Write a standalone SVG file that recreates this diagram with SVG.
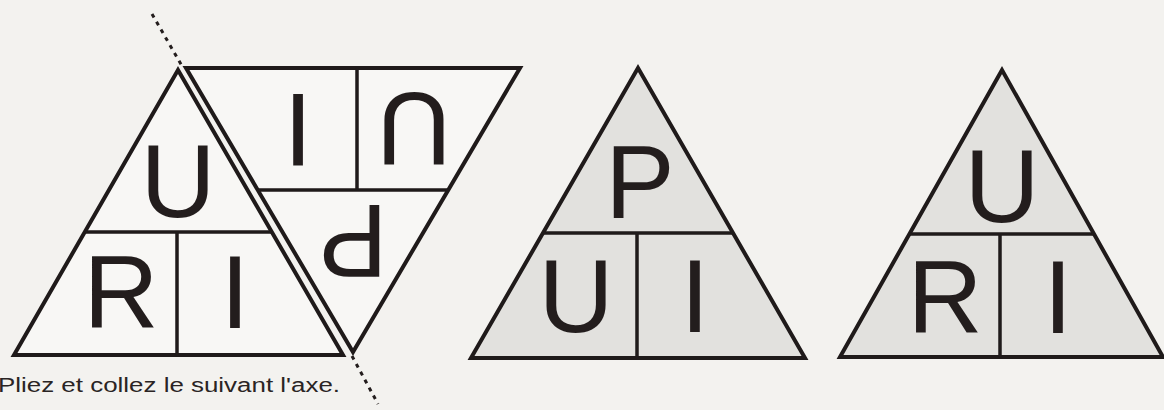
<svg xmlns="http://www.w3.org/2000/svg" width="1164" height="410" viewBox="0 0 1164 410">
<style>
.tri{stroke:#1f1a1a;stroke-width:4;stroke-linejoin:miter}
.w{fill:#f8f7f5}
.g{fill:#e2e1de}
.div{stroke:#1f1a1a;stroke-width:3.5;fill:none}
.L{font-family:"Liberation Sans",Arial,sans-serif;font-size:104px;fill:#231d1d;text-anchor:middle}
.cap{font-family:"Liberation Sans",Arial,sans-serif;font-size:20px;fill:#2a2424}
.axis{stroke:#231d1d;stroke-width:3;stroke-dasharray:4 5;fill:none}
</style>
<rect width="1164" height="410" fill="#f3f2ef"/>
<g id="fold-axis">
<line class="axis" x1="152" y1="14" x2="182" y2="66"/>
<line class="axis" x1="352" y1="356" x2="378" y2="404"/>
</g>
<g id="tri-left">
<polygon class="tri w" points="178,70 14,355 343,355"/>
<path class="div" d="M85,232 H272 M177,232 V355"/>
<text class="L" x="178" y="217">U</text>
<text class="L" x="121" y="328">R</text>
<text class="L" x="235" y="328">I</text>
</g>
<g id="tri-inverted">
<polygon class="tri w" points="186,68 520,68 353,352"/>
<path class="div" d="M258,190 H448 M357,68 V190"/>
<text class="L" transform="translate(298,131) rotate(180)" x="0" y="37">I</text>
<text class="L" transform="translate(414,130) rotate(180)" x="0" y="37">U</text>
<text class="L" transform="translate(353,242) rotate(180)" x="0" y="37">P</text>
</g>
<g id="tri-PUI">
<polygon class="tri g" points="638,68 471,358 805,358"/>
<path class="div" d="M543,233 H733 M637,233 V358"/>
<text class="L" x="640" y="218">P</text>
<text class="L" x="576" y="332">U</text>
<text class="L" x="695" y="332">I</text>
</g>
<g id="tri-URI">
<polygon class="tri g" points="1002,70 840,357 1163,357"/>
<path class="div" d="M909,234 H1094 M1000,234 V357"/>
<text class="L" x="1002" y="222">U</text>
<text class="L" x="945" y="333">R</text>
<text class="L" x="1058" y="333">I</text>
</g>
<g id="caption">
<text class="cap" x="-2" y="392" textLength="342" lengthAdjust="spacingAndGlyphs">Pliez et collez le suivant l'axe.</text>
</g>
</svg>
